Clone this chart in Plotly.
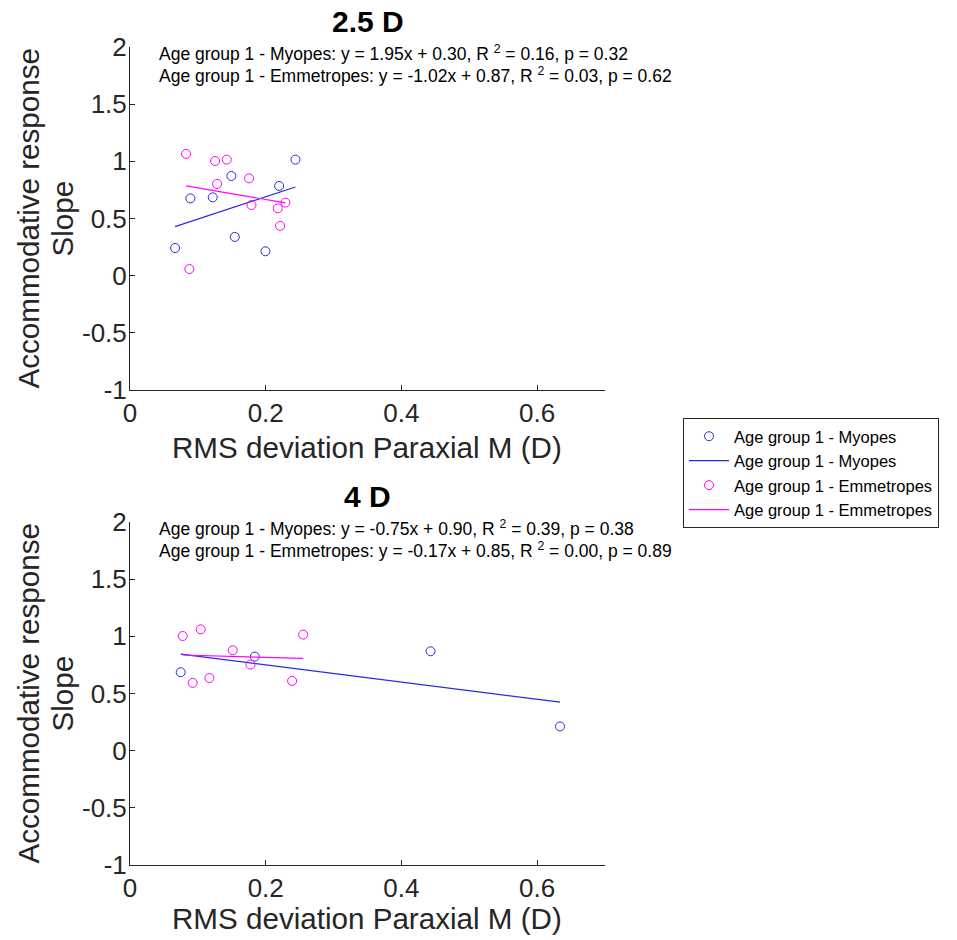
import plotly.graph_objects as go

# ---- data: 2.5 D stimulus ----
myo_25_x = [0.0664, 0.0890, 0.1219, 0.1494, 0.1544, 0.1996, 0.2198, 0.2438]
myo_25_y = [0.242, 0.676, 0.685, 0.872, 0.339, 0.213, 0.785, 1.015]
emm_25_x = [0.0826, 0.0875, 0.1254, 0.1283, 0.1426, 0.1755, 0.1790, 0.2178, 0.2212, 0.2290]
emm_25_y = [1.065, 0.058, 1.003, 0.802, 1.015, 0.851, 0.618, 0.589, 0.435, 0.639]

# ---- data: 4 D stimulus ----
myo_4_x = [0.0747, 0.1839, 0.4429, 0.6337]
myo_4_y = [0.686, 0.823, 0.869, 0.212]
emm_4_x = [0.0777, 0.0924, 0.1042, 0.1170, 0.1514, 0.1775, 0.2389, 0.2552]
emm_4_y = [1.003, 0.593, 1.061, 0.636, 0.878, 0.753, 0.610, 1.015]

# regression results: slope, intercept, R^2, p
fit_myo_25 = (1.95, 0.30, 0.16, 0.32)
fit_emm_25 = (-1.02, 0.87, 0.03, 0.62)
fit_myo_4 = (-0.75, 0.90, 0.39, 0.38)
fit_emm_4 = (-0.17, 0.85, 0.00, 0.89)

panel_titles = ["2.5 D", "4 D"]
x_label = "RMS deviation Paraxial M (D)"
y_label_lines = ["Accommodative response", "Slope"]
x_tick_vals = [0, 0.2, 0.4, 0.6]
x_tick_text = ["0", "0.2", "0.4", "0.6"]
y_tick_vals = [-1, -0.5, 0, 0.5, 1, 1.5, 2]
y_tick_text = ["-1", "-0.5", "0", "0.5", "1", "1.5", "2"]
name_myo = "Age group 1 - Myopes"
name_emm = "Age group 1 - Emmetropes"

BLUE = "#2a2ae0"
MAGENTA = "#ff00ff"
AX = "#262626"
FONT = "Liberation Sans, Arial, sans-serif"

W, H = 957, 940
x_px = (130, 605)
y_px = [(47, 390), (522, 865)]
x_dom = [x_px[0] / W, x_px[1] / W]
y_doms = [[1 - b / H, 1 - t / H] for t, b in y_px]

fig = go.Figure()


def fit_line(xs, fit):
    lo, hi = min(xs), max(xs)
    return [lo, hi], [fit[0] * lo + fit[1], fit[0] * hi + fit[1]]


panels = [
    (myo_25_x, myo_25_y, emm_25_x, emm_25_y, fit_myo_25, fit_emm_25),
    (myo_4_x, myo_4_y, emm_4_x, emm_4_y, fit_myo_4, fit_emm_4),
]

for i, (mx, my, ex, ey, fm, fe) in enumerate(panels):
    xa = "x" if i == 0 else "x2"
    ya = "y" if i == 0 else "y2"
    show = i == 0
    fig.add_trace(go.Scatter(x=mx, y=my, mode="markers", name=name_myo,
                             marker=dict(symbol="circle-open", size=9, color=BLUE,
                                         line=dict(width=1, color=BLUE)),
                             xaxis=xa, yaxis=ya, showlegend=show))
    lx, ly = fit_line(mx, fm)
    fig.add_trace(go.Scatter(x=lx, y=ly, mode="lines", name=name_myo,
                             line=dict(color=BLUE, width=1.2),
                             xaxis=xa, yaxis=ya, showlegend=show))
    fig.add_trace(go.Scatter(x=ex, y=ey, mode="markers", name=name_emm,
                             marker=dict(symbol="circle-open", size=9, color=MAGENTA,
                                         line=dict(width=1, color=MAGENTA)),
                             xaxis=xa, yaxis=ya, showlegend=show))
    lx, ly = fit_line(ex, fe)
    fig.add_trace(go.Scatter(x=lx, y=ly, mode="lines", name=name_emm,
                             line=dict(color=MAGENTA, width=1.2),
                             xaxis=xa, yaxis=ya, showlegend=show))

axis_common = dict(showline=True, linecolor=AX, linewidth=1, mirror=False,
                   ticks="inside", ticklen=5, tickcolor=AX, showgrid=False,
                   zeroline=False, automargin=False,
                   tickfont=dict(size=26, color=AX, family=FONT))

layout = dict(
    width=W, height=H, margin=dict(l=0, r=0, t=0, b=0, autoexpand=False),
    paper_bgcolor="white", plot_bgcolor="white",
    font=dict(family=FONT, color=AX),
    legend=dict(x=683 / W, y=1 - 418 / H, xanchor="left", yanchor="top",
                bordercolor=AX, borderwidth=1, bgcolor="white",
                font=dict(size=16.5, color="black", family=FONT),
                itemwidth=40, tracegroupgap=0),
)
for i in range(2):
    sx = "" if i == 0 else "2"
    layout["xaxis" + sx] = dict(domain=x_dom, range=[0, 0.7], tickvals=x_tick_vals,
                                ticktext=x_tick_text, anchor="y" + sx, **axis_common)
    layout["yaxis" + sx] = dict(domain=y_doms[i], range=[-1, 2], tickvals=y_tick_vals,
                                ticktext=y_tick_text, anchor="x" + sx,
                                ticklabelstandoff=-3, **axis_common)
fig.update_layout(**layout)


def stat_text(name, fit):
    return (f"{name}: y = {fit[0]:.2f}x + {fit[1]:.2f}, R <sup>2</sup> = {fit[2]:.2f}, "
            f"p = {fit[3]:.2f}")


x_mid = (x_dom[0] + x_dom[1]) / 2
title_y = [22, 496]
xlabel_y = [447, 918]
stat_y = [(53, 75), (528, 550)]
fits = [(fit_myo_25, fit_emm_25), (fit_myo_4, fit_emm_4)]
for i in range(2):
    y_mid_px = (y_px[i][0] + y_px[i][1]) / 2
    fig.add_annotation(text=f"<b>{panel_titles[i]}</b>", xref="paper", yref="paper",
                       x=x_mid, y=1 - title_y[i] / H, xanchor="center",
                       yanchor="middle", showarrow=False,
                       font=dict(size=30, color="black", family=FONT))
    fig.add_annotation(text=x_label, xref="paper", yref="paper",
                       x=(x_mid * W - 1) / W, y=1 - xlabel_y[i] / H, xanchor="center",
                       yanchor="middle", showarrow=False,
                       font=dict(size=29.6, color=AX, family=FONT))
    for k, xc in enumerate([28, 62]):
        fig.add_annotation(text=y_label_lines[k], xref="paper", yref="paper",
                           x=xc / W, y=1 - y_mid_px / H, xanchor="center",
                           yanchor="middle", textangle=-90, showarrow=False,
                           font=dict(size=29.6, color=AX, family=FONT))
    for j, (nm, ft) in enumerate([(name_myo, fits[i][0]), (name_emm, fits[i][1])]):
        fig.add_annotation(text=stat_text(nm, ft), xref="paper", yref="paper",
                           x=157 / W, y=1 - stat_y[i][j] / H, xanchor="left",
                           yanchor="middle", showarrow=False,
                           font=dict(size=17.5, color="black", family=FONT))

fig.write_html("out.html")
